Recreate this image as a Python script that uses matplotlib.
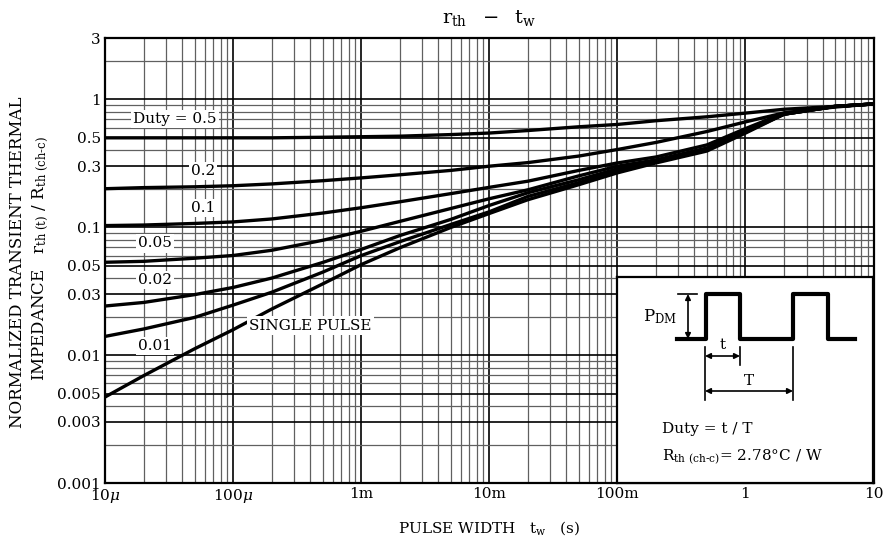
import matplotlib
matplotlib.use("Agg")
import matplotlib.pyplot as plt
from matplotlib.ticker import FixedLocator, LogLocator, NullFormatter

plt.rcParams['font.family'] = ['DejaVu Serif']
plt.rcParams['mathtext.fontset'] = 'dejavuserif'

# ---------------------------------------------------------------
# Datos leidos de la curva rth - tw
# ---------------------------------------------------------------
t_w = [1e-5, 2e-5, 5e-5, 1e-4, 2e-4, 5e-4, 1e-3, 2e-3, 5e-3, 1e-2,
       2e-2, 5e-2, 0.1, 0.2, 0.5, 1, 2, 5, 10]

duty_05 = [0.50, 0.50, 0.50, 0.50, 0.50, 0.505, 0.51, 0.515, 0.53, 0.545,
           0.57, 0.61, 0.636, 0.68, 0.73, 0.78, 0.836, 0.88, 0.92]
duty_02 = [0.20, 0.204, 0.207, 0.211, 0.218, 0.231, 0.243, 0.257, 0.278, 0.30,
           0.32, 0.36, 0.405, 0.46, 0.56, 0.666, 0.783, 0.87, 0.92]
duty_01 = [0.103, 0.104, 0.107, 0.110, 0.116, 0.129, 0.142, 0.158, 0.183, 0.205,
           0.229, 0.278, 0.318, 0.354, 0.44, 0.59, 0.78, 0.88, 0.92]
duty_005 = [0.0532, 0.0541, 0.0572, 0.0601, 0.066, 0.079, 0.093, 0.111, 0.14, 0.167,
            0.196, 0.252, 0.30, 0.336, 0.416, 0.574, 0.765, 0.88, 0.92]
duty_002 = [0.0242, 0.0258, 0.0297, 0.0338, 0.040, 0.053, 0.067, 0.086, 0.115, 0.148,
            0.186, 0.235, 0.286, 0.33, 0.41, 0.564, 0.765, 0.88, 0.92]
duty_001 = [0.014, 0.016, 0.0197, 0.0246, 0.031, 0.0445, 0.060, 0.077, 0.105, 0.132,
            0.174, 0.223, 0.276, 0.324, 0.402, 0.554, 0.765, 0.88, 0.92]
single = [0.0047, 0.0069, 0.0112, 0.0158, 0.0229, 0.036, 0.051, 0.069, 0.0995, 0.128,
          0.164, 0.215, 0.266, 0.318, 0.394, 0.544, 0.765, 0.88, 0.92]

curvas = [duty_05, duty_02, duty_01, duty_005, duty_002, duty_001, single]

x_ticks = [1e-5, 1e-4, 1e-3, 1e-2, 1e-1, 1, 10]
x_labels = [r'10$\mu$', r'100$\mu$', '1m', '10m', '100m', '1', '10']
y_ticks = [0.001, 0.003, 0.005, 0.01, 0.03, 0.05, 0.1, 0.3, 0.5, 1, 3]
y_labels = ['0.001', '0.003', '0.005', '0.01', '0.03', '0.05', '0.1', '0.3', '0.5', '1', '3']

# etiquetas de cada curva: (texto, x, y)
etiquetas = [('Duty = 0.5', 3.5e-5, 0.70),
             ('0.2', 5.8e-5, 0.276),
             ('0.1', 5.8e-5, 0.142),
             ('0.05', 2.45e-5, 0.0746),
             ('0.02', 2.45e-5, 0.0386),
             ('0.01', 2.45e-5, 0.0118),
             ('SINGLE PULSE', 4.0e-4, 0.017)]

# ---------------------------------------------------------------
# Figura
# ---------------------------------------------------------------
fig = plt.figure(figsize=(8.86, 5.45), dpi=100)
ax = fig.add_axes([105/886, 1-483/545, 768.5/886, 444.7/545])

for c in curvas:
    ax.plot(t_w, c, color='black', lw=2.4, solid_capstyle='butt', zorder=3)

ax.set_xscale('log')
ax.set_yscale('log')
ax.set_xlim(1e-5, 10)
ax.set_ylim(0.001, 3)

ax.xaxis.set_major_locator(FixedLocator(x_ticks))
ax.set_xticklabels(x_labels)
ax.xaxis.set_minor_locator(LogLocator(base=10, subs=range(2, 10), numticks=20))
ax.xaxis.set_minor_formatter(NullFormatter())
ax.yaxis.set_major_locator(FixedLocator(y_ticks))
ax.set_yticklabels(y_labels)
ax.yaxis.set_minor_locator(LogLocator(base=10, subs=range(1, 10), numticks=20))
ax.yaxis.set_minor_formatter(NullFormatter())

ax.grid(which='minor', color='#606060', lw=0.9)
ax.grid(which='major', color='black', lw=1.2)
ax.tick_params(which='both', length=0, labelsize=11, pad=3)
for s in ax.spines.values():
    s.set_linewidth(1.6)

for txt, xx, yy in etiquetas:
    ax.text(xx, yy, txt, fontsize=11, ha='center', va='center', zorder=4,
            bbox=dict(facecolor='white', edgecolor='none', pad=1.5))

ax.set_title(r'$\mathregular{r_{th}\ \ -\ \ t_w}$', fontsize=14, pad=11)
ax.set_xlabel(r'PULSE WIDTH   $\mathregular{t_w}$   (s)', fontsize=11, labelpad=10)
fig.text(18/886, 1-262/545, 'NORMALIZED TRANSIENT THERMAL', rotation=90,
         ha='center', va='center', fontsize=12)
fig.text(41/886, 1-258/545,
         r'IMPEDANCE   $\mathregular{r_{th\ (t)}\ /\ R_{th\ (ch‐c)}}$',
         rotation=90, ha='center', va='center', fontsize=12)

# ---------------------------------------------------------------
# Recuadro con el pulso
# ---------------------------------------------------------------
ins = ax.inset_axes([(617-105)/768.5, 0, (873.5-617)/768.5, (483-277)/444.7])
ins.set_xlim(0, 256.5)
ins.set_ylim(206, 0)
ins.set_xticks([])
ins.set_yticks([])
for s in ins.spines.values():
    s.set_linewidth(1.6)
ins.set_zorder(5)

pulso_x = [60, 89, 89, 123, 123, 176, 176, 211, 211, 238]
pulso_y = [62, 62, 17, 17, 62, 62, 17, 17, 62, 62]
ins.plot(pulso_x, pulso_y, color='black', lw=3)

flecha = dict(arrowstyle='<|-|>', color='black', lw=1.2, mutation_scale=8,
              shrinkA=0, shrinkB=0)
ins.plot([61, 80], [17, 17], color='black', lw=1.2)
ins.annotate('', xy=(71, 17), xytext=(71, 62), arrowprops=flecha)
ins.text(60, 40, r'$\mathregular{P_{DM}}$', fontsize=12, ha='right', va='center')

ins.plot([88, 88], [70, 123], color='black', lw=1.2)
ins.plot([123, 123], [70, 88], color='black', lw=1.2)
ins.plot([176, 176], [70, 123], color='black', lw=1.2)
ins.annotate('', xy=(88, 79), xytext=(123, 79), arrowprops=flecha)
ins.annotate('', xy=(88, 114), xytext=(176, 114), arrowprops=flecha)
ins.text(105.5, 68, 't', fontsize=11, ha='center', va='center')
ins.text(132, 104, 'T', fontsize=11, ha='center', va='center')

ins.text(45, 152, 'Duty = t / T', fontsize=11, ha='left', va='center')
ins.text(45, 180, r'$\mathregular{R_{th\ (ch‐c)}}$= 2.78°C / W', fontsize=11,
         ha='left', va='center')

fig.savefig('out.png', dpi=100)
